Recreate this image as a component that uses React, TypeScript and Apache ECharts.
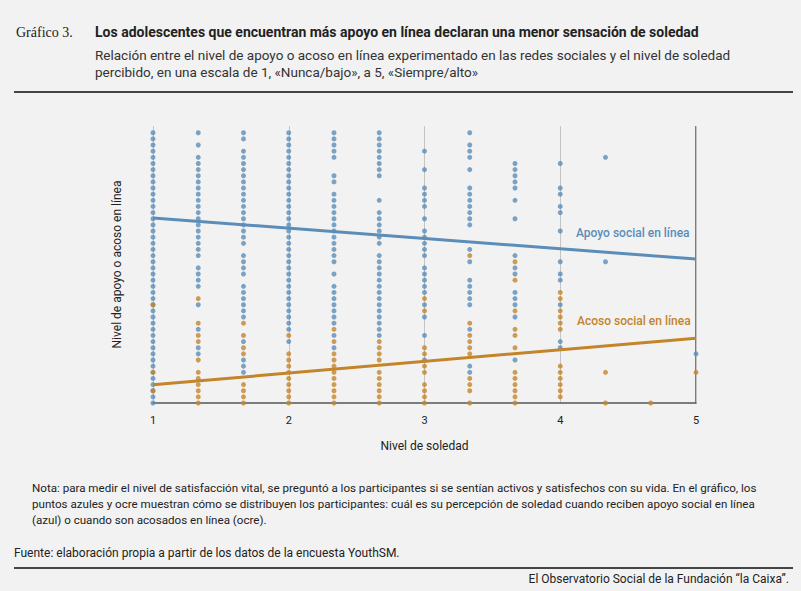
import React, { useEffect, useRef } from 'react';
import * as echarts from 'echarts';

// x columns (nivel de soledad) and dot levels (step index k, value = 1 + k/11)
const columns = [1, 4 / 3, 5 / 3, 2, 7 / 3, 8 / 3, 3, 10 / 3, 11 / 3, 4, 13 / 3, 14 / 3, 5];
const range = (a: number, b: number) => Array.from({ length: b - a + 1 }, (_, i) => a + i);

const apoyoLevels: number[][] = [
  range(0, 44),
  [44, 42, 40, 39, 38, 37, 36, 35, 34, 33, 32, 31, 30, 29, 28, 27, 26, 25, 24, 22, 21, 20, 19, 16, 12, 9, 8],
  [44, 43, 41, 40, 39, 38, 37, 36, 35, 34, 33, 32, 31, 30, 29, 28, 27, 26, 24, 23, 22, 21, 19, 18, 17, 16, 15, 14, 10, 7, 6, 5],
  range(10, 44).filter((k) => k !== 11),
  [44, 43, 42, 41, 40, 37, 36, 34, 33, 32, 31, 30, 29, 28, 27, 26, 25, 24, 23, 21, 19, 18, 17, 16, 15, 14, 13, 11, 9],
  [44, 43, 42, 41, 40, 39, 38, 37, 33, 31, 30, 29, 28, 27, 26, ...range(11, 24)],
  [41, 38, 35, 34, 33, 32, 30, 28, 27, 26, 25, 24, 22, 21, 20, 19, 18, 16, 14, 11, 7],
  [44, 42, 41, 40, 38, 35, 34, 33, 32, 31, 30, 29, 25, 23, 20, 19, 18, 17, 16, 12, 6, 5],
  [39, 38, 37, 36, 35, 33, 30, 24, 22, 21, 18, 17, 16, 14, 7],
  [39, 35, 34, 32, 31, 28, 23, 21, 20, 16, 10, 9],
  [40, 23],
  [],
  [8],
];
const acosoLevels: number[][] = [
  [16, 5, 2],
  [17, 13, 11, 10, 7, 5, 4, 3, 2, 1, 0],
  [13, 11, 9, 8, 3, 2, 1, 0],
  [11, 8, 7, 6, 5, 4, 3, 2, 1, 0],
  [12, 10, 8, 7, 6, 5, 4, 3, 2, 1, 0],
  [10, 9, 8, 7, 5, 4, 3, 2, 1, 0],
  [17, 15, 9, 8, 6, 5, 3, 2, 1, 0],
  [24, 13, 11, 10, 9, 8, 4, 3, 2, 0],
  [23, 20, 15, 12, 11, 9, 5, 4, 3, 2, 1, 0],
  [18, 17, 15, 14, 13, 12, 6, 5, 4, 3, 2, 1],
  [5, 0],
  [0],
  [5],
];
const apoyoTrend = [[1, 3.74], [5, 3.13]];
const acosoTrend = [[1, 1.27], [5, 1.96]];

const BLUE = '#5b8db8';
const OCHRE = '#c3842a';

const toPoints = (lv: number[][]) =>
  lv.flatMap((ks, i) => ks.map((k) => [columns[i], 1 + k / 11]));

function Chart() {
  const ref = useRef<HTMLDivElement>(null);
  useEffect(() => {
    if (!ref.current) return;
    const chart = echarts.init(ref.current, undefined, { renderer: 'svg' });
    chart.setOption({
      animation: false,
      backgroundColor: 'transparent',
      textStyle: { fontFamily: 'Roboto' },
      grid: { left: 153, right: 105, top: 126, bottom: 188 },
      xAxis: {
        type: 'value', min: 1, max: 5, interval: 1,
        name: 'Nivel de soledad', nameLocation: 'middle', nameGap: 37,
        nameTextStyle: { color: '#222', fontSize: 12 },
        axisLine: { lineStyle: { color: '#555', width: 1.5 } },
        axisTick: { show: false },
        axisLabel: { color: '#222', fontSize: 11, margin: 12 },
        splitLine: { show: true, lineStyle: { color: '#c4c4c4' } },
      },
      yAxis: {
        type: 'value', min: 1, max: 5.1,
        name: 'Nivel de apoyo o acoso en línea', nameLocation: 'middle', nameGap: 30,
        nameTextStyle: { color: '#222', fontSize: 12 },
        axisLine: { show: false }, axisTick: { show: false }, axisLabel: { show: false },
        splitLine: { show: false },
      },
      series: [
        { type: 'scatter', data: toPoints(apoyoLevels), symbolSize: 5, itemStyle: { color: BLUE } },
        { type: 'scatter', data: toPoints(acosoLevels), symbolSize: 5, itemStyle: { color: OCHRE } },
        { type: 'line', data: apoyoTrend, symbol: 'none', lineStyle: { color: BLUE, width: 3 } },
        { type: 'line', data: acosoTrend, symbol: 'none', lineStyle: { color: OCHRE, width: 3 } },
      ],
      graphic: [
        { type: 'line', shape: { x1: 696, y1: 126, x2: 696, y2: 403 }, style: { stroke: '#555', lineWidth: 1.5 } },
        { type: 'text', x: 576, y: 227, style: { text: 'Apoyo social en línea', fill: BLUE, font: '500 12px Roboto' } },
        { type: 'text', x: 577, y: 315, style: { text: 'Acoso social en línea', fill: OCHRE, font: '500 12px Roboto' } },
      ],
    });
    return () => chart.dispose();
  }, []);
  return <div ref={ref} style={{ position: 'absolute', left: 0, top: 0, width: 801, height: 591 }} />;
}

export default function App() {
  const sans = 'Roboto, sans-serif';
  return (
    <div style={{ position: 'fixed', left: 0, top: 0, width: 801, height: 591, background: '#f2f2f2', fontFamily: sans, color: '#222' }}>
      <div style={{ position: 'absolute', left: 16, top: 25, fontFamily: '"Liberation Serif", serif', fontSize: 14 }}>Gráfico 3.</div>
      <div style={{ position: 'absolute', left: 95, top: 24, fontSize: 14, fontWeight: 700 }}>
        Los adolescentes que encuentran más apoyo en línea declaran una menor sensación de soledad
      </div>
      <div style={{ position: 'absolute', left: 95, top: 47, width: 680, fontSize: 13.5, lineHeight: '17px', color: '#333' }}>
        Relación entre el nivel de apoyo o acoso en línea experimentado en las redes sociales y el nivel de soledad percibido, en una escala de 1, «Nunca/bajo», a 5, «Siempre/alto»
      </div>
      <div style={{ position: 'absolute', left: 14, top: 91, width: 779, height: 2, background: '#444' }} />
      <Chart />
      <div style={{ position: 'absolute', left: 32, top: 480, width: 740, fontSize: 11.6, lineHeight: '16px', color: '#222' }}>
        Nota: para medir el nivel de satisfacción vital, se preguntó a los participantes si se sentían activos y satisfechos con su vida. En el gráfico, los puntos azules y ocre muestran cómo se distribuyen los participantes: cuál es su percepción de soledad cuando reciben apoyo social en línea (azul) o cuando son acosados en línea (ocre).
      </div>
      <div style={{ position: 'absolute', left: 14, top: 546, fontSize: 12 }}>
        Fuente: elaboración propia a partir de los datos de la encuesta YouthSM.
      </div>
      <div style={{ position: 'absolute', left: 14, top: 567, width: 779, height: 1.5, background: '#444' }} />
      <div style={{ position: 'absolute', right: 12, top: 572, fontSize: 12 }}>
        El Observatorio Social de la Fundación “la Caixa”.
      </div>
    </div>
  );
}
